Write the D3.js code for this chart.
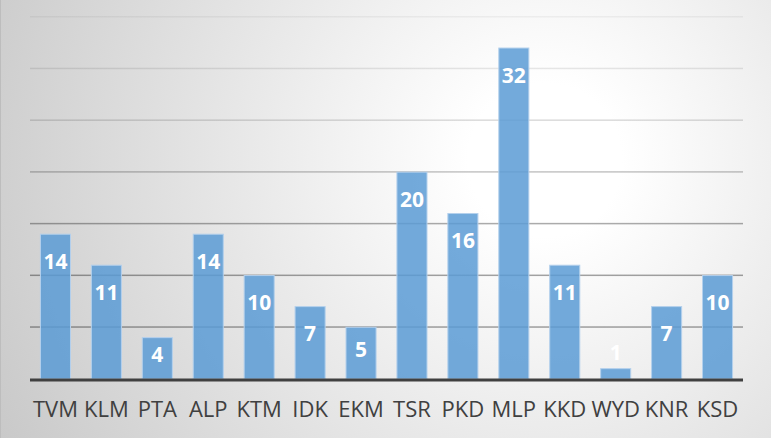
<!DOCTYPE html>
<html>
<head>
<meta charset="utf-8">
<script src="https://cdn.jsdelivr.net/npm/d3@7"></script>
<style>
  body { margin: 0; background: #fff; }
  svg { display: block; }
  .cat { font-family: "Open Sans", sans-serif; font-size: 22px; fill: #404040; }
  .val { font-family: "Open Sans", sans-serif; font-size: 21px; font-weight: bold; fill: #fff; }
</style>
</head>
<body>
<div id="chart"></div>
<script>
  // districts and counts
  let districts = ["TVM", "KLM", "PTA", "ALP", "KTM", "IDK", "EKM", "TSR", "PKD", "MLP", "KKD", "WYD", "KNR", "KSD"];
  let counts = [14, 11, 4, 14, 10, 7, 5, 20, 16, 32, 11, 1, 7, 10];
  let gridTicks = [5, 10, 15, 20, 25, 30, 35];

  let width = 771;
  let height = 438;
  let margin = {top: 17, right: 28, bottom: 59, left: 30};

  let svg = d3.select("#chart").append("svg")
    .attr("width", width)
    .attr("height", height);

  let defs = svg.append("defs");

  // background radial gradient
  let bg = defs.append("radialGradient")
    .attr("id", "bg")
    .attr("gradientUnits", "userSpaceOnUse")
    .attr("cx", 545).attr("cy", 160).attr("r", 640);
  bg.append("stop").attr("offset", "0").attr("stop-color", "#ffffff");
  bg.append("stop").attr("offset", "0.12").attr("stop-color", "#ffffff");
  bg.append("stop").attr("offset", "1").attr("stop-color", "#c6c6c6");

  // gridlines fade toward the top
  let gg = defs.append("linearGradient")
    .attr("id", "gridfade")
    .attr("gradientUnits", "userSpaceOnUse")
    .attr("x1", 0).attr("y1", margin.top).attr("x2", 0).attr("y2", 240);
  gg.append("stop").attr("offset", "0").attr("stop-color", "#000").attr("stop-opacity", 0.05);
  gg.append("stop").attr("offset", "0.5").attr("stop-color", "#000").attr("stop-opacity", 0.15);
  gg.append("stop").attr("offset", "1").attr("stop-color", "#000").attr("stop-opacity", 0.36);

  svg.append("rect")
    .attr("width", width)
    .attr("height", height)
    .attr("fill", "url(#bg)");
  svg.append("line")
    .attr("x1", 0.5).attr("x2", 0.5).attr("y1", 0).attr("y2", height)
    .attr("stroke", "#bdbdbd");

  let x = d3.scaleBand()
    .domain(districts)
    .range([margin.left, width - margin.right])
    .paddingInner(0.41)
    .paddingOuter(0.205);

  let y = d3.scaleLinear()
    .domain([0, 35])
    .range([height - margin.bottom, margin.top]);

  // gridlines
  svg.append("g")
    .selectAll("rect")
    .data(gridTicks)
    .enter()
    .append("rect")
    .attr("x", margin.left)
    .attr("width", width - margin.right - margin.left)
    .attr("y", function(d) { return y(d) - 1; })
    .attr("height", 1.5)
    .attr("fill", "url(#gridfade)");

  // bars
  svg.append("g")
    .selectAll("rect")
    .data(counts)
    .enter()
    .append("rect")
    .attr("x", function(d, i) { return x(districts[i]); })
    .attr("y", function(d) { return y(d); })
    .attr("width", x.bandwidth())
    .attr("height", function(d) { return y(0) - y(d); })
    .attr("fill", "#5b9bd5")
    .attr("fill-opacity", 0.85)
    .attr("stroke", "#b4d0ec")
    .attr("stroke-width", 1);

  // value labels
  svg.append("g")
    .selectAll("text")
    .data(counts)
    .enter()
    .append("text")
    .attr("class", "val")
    .attr("text-anchor", "middle")
    .attr("dy", "0.36em")
    .attr("x", function(d, i) { return x(districts[i]) + x.bandwidth() / 2; })
    .attr("y", function(d) {
      let h = y(0) - y(d);
      if (h < 30) return y(d) - 16;
      return y(d) + Math.min(27, h / 2 - 4);
    })
    .text(function(d) { return d; });

  // baseline
  svg.append("line")
    .attr("x1", margin.left).attr("x2", width - margin.right)
    .attr("y1", y(0) + 1).attr("y2", y(0) + 1)
    .attr("stroke", "#404040")
    .attr("stroke-width", 3);

  // category axis
  let xAxis = svg.append("g")
    .attr("transform", "translate(0," + (y(0) + 2) + ")")
    .call(d3.axisBottom(x).tickSize(0).tickPadding(0));
  xAxis.select(".domain").remove();
  xAxis.selectAll("text")
    .attr("class", "cat")
    .attr("fill", null)
    .attr("dy", null)
    .attr("y", 36)
    .attr("font-size", null)
    .attr("font-family", null);
</script>
</body>
</html>
